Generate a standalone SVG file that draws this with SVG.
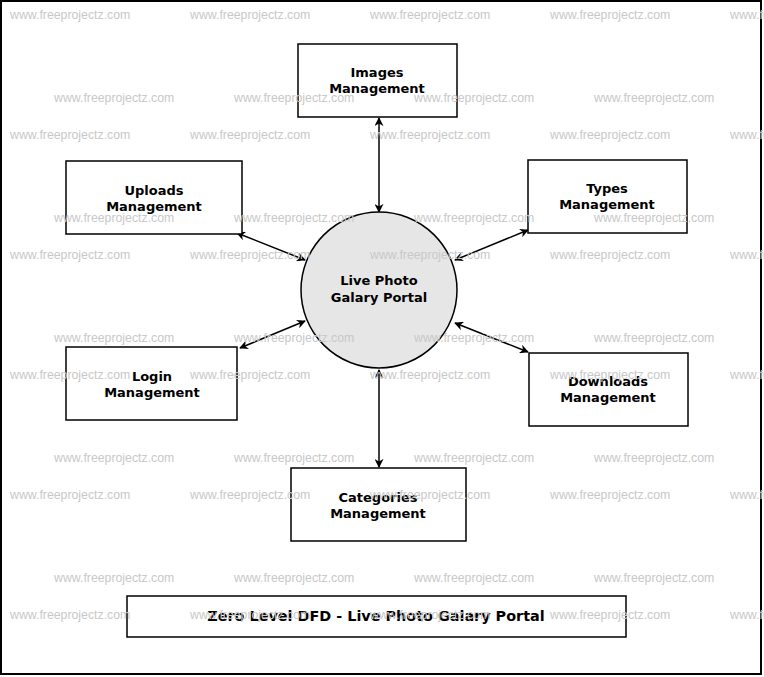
<svg xmlns="http://www.w3.org/2000/svg" width="764" height="677" viewBox="0 0 764 677">
<style>
.wm{font-family:"Liberation Sans",Arial,sans-serif;font-size:12.3px;fill:#c8c8c8}
.b{fill:#fff;stroke:#000;stroke-width:1.5}
.t{font-family:"DejaVu Sans",sans-serif;font-size:13px;font-weight:bold;text-anchor:middle;fill:#000}
.c{stroke:#000;stroke-width:1.5;fill:none;marker-start:url(#a);marker-end:url(#a)}
</style>
<defs><marker id="a" viewBox="0 0 10 10" refX="9" refY="5" markerWidth="9" markerHeight="9" orient="auto-start-reverse" markerUnits="userSpaceOnUse"><path d="M0,0L10,5L0,10L3,5z" fill="#000"/></marker></defs>
<rect x="1" y="1" width="760" height="673" fill="#fff" stroke="#000" stroke-width="2"/>
<g id="connectors">
<line class="c" x1="379" y1="118" x2="379" y2="212"/>
<line class="c" x1="237" y1="233" x2="305" y2="260"/>
<line class="c" x1="528" y1="230" x2="455" y2="260"/>
<line class="c" x1="240" y1="348" x2="305" y2="321"/>
<line class="c" x1="528" y1="352" x2="455" y2="323"/>
<line class="c" x1="379" y1="370" x2="379" y2="467"/>
</g>
<g id="center"><circle cx="379" cy="290" r="78" fill="#e6e6e6" stroke="#000" stroke-width="1.5"/><text class="t" x="379" y="285">Live Photo</text><text class="t" x="379" y="302">Galary Portal</text></g>
<g id="images"><rect class="b" x="298" y="44" width="159" height="73"/><text class="t" x="377" y="77">Images</text><text class="t" x="377" y="93">Management</text></g>
<g id="uploads"><rect class="b" x="66" y="161" width="176" height="73"/><text class="t" x="154" y="195">Uploads</text><text class="t" x="154" y="211">Management</text></g>
<g id="types"><rect class="b" x="528" y="160" width="159" height="73"/><text class="t" x="607" y="193">Types</text><text class="t" x="607" y="209">Management</text></g>
<g id="login"><rect class="b" x="66" y="347" width="171" height="73"/><text class="t" x="152" y="381">Login</text><text class="t" x="152" y="397">Management</text></g>
<g id="downloads"><rect class="b" x="529" y="353" width="159" height="73"/><text class="t" x="608" y="386">Downloads</text><text class="t" x="608" y="402">Management</text></g>
<g id="categories"><rect class="b" x="291" y="468" width="175" height="73"/><text class="t" x="378" y="502">Categories</text><text class="t" x="378" y="518">Management</text></g>
<g id="title"><rect class="b" x="127" y="596" width="499" height="41"/><text class="t" x="376" y="621" style="font-size:14.4px">Zero Level DFD - Live Photo Galary Portal</text></g>
<g id="watermarks">
<text class="wm" x="10" y="19">www.freeprojectz.com</text><text class="wm" x="190" y="19">www.freeprojectz.com</text><text class="wm" x="370" y="19">www.freeprojectz.com</text><text class="wm" x="550" y="19">www.freeprojectz.com</text><text class="wm" x="730" y="19">www.freeprojectz.com</text>
<text class="wm" x="54" y="102">www.freeprojectz.com</text><text class="wm" x="234" y="102">www.freeprojectz.com</text><text class="wm" x="414" y="102">www.freeprojectz.com</text><text class="wm" x="594" y="102">www.freeprojectz.com</text>
<text class="wm" x="10" y="139">www.freeprojectz.com</text><text class="wm" x="190" y="139">www.freeprojectz.com</text><text class="wm" x="370" y="139">www.freeprojectz.com</text><text class="wm" x="550" y="139">www.freeprojectz.com</text><text class="wm" x="730" y="139">www.freeprojectz.com</text>
<text class="wm" x="54" y="222">www.freeprojectz.com</text><text class="wm" x="234" y="222">www.freeprojectz.com</text><text class="wm" x="414" y="222">www.freeprojectz.com</text><text class="wm" x="594" y="222">www.freeprojectz.com</text>
<text class="wm" x="10" y="259">www.freeprojectz.com</text><text class="wm" x="190" y="259">www.freeprojectz.com</text><text class="wm" x="370" y="259">www.freeprojectz.com</text><text class="wm" x="550" y="259">www.freeprojectz.com</text><text class="wm" x="730" y="259">www.freeprojectz.com</text>
<text class="wm" x="54" y="342">www.freeprojectz.com</text><text class="wm" x="234" y="342">www.freeprojectz.com</text><text class="wm" x="414" y="342">www.freeprojectz.com</text><text class="wm" x="594" y="342">www.freeprojectz.com</text>
<text class="wm" x="10" y="379">www.freeprojectz.com</text><text class="wm" x="190" y="379">www.freeprojectz.com</text><text class="wm" x="370" y="379">www.freeprojectz.com</text><text class="wm" x="550" y="379">www.freeprojectz.com</text><text class="wm" x="730" y="379">www.freeprojectz.com</text>
<text class="wm" x="54" y="462">www.freeprojectz.com</text><text class="wm" x="234" y="462">www.freeprojectz.com</text><text class="wm" x="414" y="462">www.freeprojectz.com</text><text class="wm" x="594" y="462">www.freeprojectz.com</text>
<text class="wm" x="10" y="499">www.freeprojectz.com</text><text class="wm" x="190" y="499">www.freeprojectz.com</text><text class="wm" x="370" y="499">www.freeprojectz.com</text><text class="wm" x="550" y="499">www.freeprojectz.com</text><text class="wm" x="730" y="499">www.freeprojectz.com</text>
<text class="wm" x="54" y="582">www.freeprojectz.com</text><text class="wm" x="234" y="582">www.freeprojectz.com</text><text class="wm" x="414" y="582">www.freeprojectz.com</text><text class="wm" x="594" y="582">www.freeprojectz.com</text>
<text class="wm" x="10" y="619">www.freeprojectz.com</text><text class="wm" x="190" y="619">www.freeprojectz.com</text><text class="wm" x="370" y="619">www.freeprojectz.com</text><text class="wm" x="550" y="619">www.freeprojectz.com</text><text class="wm" x="730" y="619">www.freeprojectz.com</text>
</g>
</svg>
